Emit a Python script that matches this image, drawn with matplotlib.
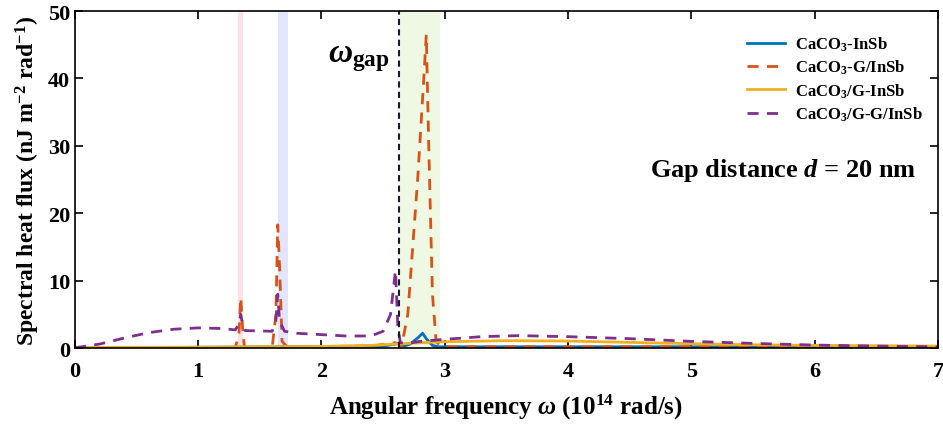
import numpy as np
import matplotlib
matplotlib.use("Agg")
import matplotlib.pyplot as plt

plt.rcParams['font.family'] = ['Liberation Serif', 'DejaVu Serif']
plt.rcParams['font.weight'] = 'bold'
plt.rcParams['axes.labelweight'] = 'bold'
plt.rcParams['mathtext.fontset'] = 'custom'
plt.rcParams['mathtext.rm'] = 'Liberation Serif:bold'
plt.rcParams['mathtext.bf'] = 'Liberation Serif:bold'
plt.rcParams['mathtext.it'] = 'Liberation Serif:italic:bold'

# datos
w_azul = [0, 2.5, 2.6, 2.64, 2.67, 2.72, 2.78, 2.82, 2.85, 2.9, 2.95, 7]
q_azul = [0.0, 0.3, 0.6, 0.8, 0.3, 0.6, 1.5, 2.2, 1.4, 0.4, 0.2, 0.2]

w_rojo = [0, 1.3, 1.33, 1.345, 1.36, 1.375, 1.6, 1.63, 1.645, 1.66, 1.68, 1.72,
          2.4, 2.6, 2.65, 2.7, 2.78, 2.83, 2.85, 2.87, 2.9, 2.93, 2.97, 7]
q_rojo = [0.0, 0.05, 2.0, 7.5, 3.0, 0.1, 0.1, 5.0, 18.3, 12.0, 1.0, 0.2,
          0.3, 0.8, 0.3, 5.0, 25.0, 40.0, 46.5, 30.0, 8.0, 1.0, 0.2, 0.2]

w_amar = [0, 1, 2, 2.4, 2.6, 2.8, 3.0, 3.5, 4.0, 4.5, 5, 5.5, 6, 7]
q_amar = [0.1, 0.15, 0.25, 0.4, 0.6, 0.8, 0.95, 1.1, 1.05, 0.85, 0.65, 0.5, 0.4, 0.3]

w_mor = [0, 0.2, 0.4, 0.6, 0.8, 1.0, 1.2, 1.3, 1.33, 1.345, 1.36, 1.38, 1.6, 1.63,
         1.645, 1.66, 1.7, 1.8, 2.0, 2.2, 2.4, 2.5, 2.56, 2.6, 2.62, 2.64, 2.7, 2.8,
         3.0, 3.3, 3.6, 4.0, 4.5, 5.0, 5.5, 6.0, 6.5, 7]
q_mor = [0.05, 0.6, 1.5, 2.3, 2.8, 3.0, 2.9, 2.7, 3.5, 5.0, 3.5, 2.6, 2.5, 4.0,
         8.0, 4.0, 2.5, 2.2, 2.0, 1.8, 1.8, 2.5, 5.0, 11.5, 3.0, 0.8, 0.7, 1.0,
         1.3, 1.7, 1.85, 1.7, 1.4, 1.0, 0.7, 0.45, 0.3, 0.2]

labels = ["CaCO$_3$-InSb", "CaCO$_3$-G/InSb", "CaCO$_3$/G-InSb", "CaCO$_3$/G-G/InSb"]
w_gap = 2.63

fig = plt.figure(figsize=(9.43, 4.31), dpi=100)
ax = fig.add_axes([0.0795, 0.19, 0.915, 0.782])

# bandas
ax.axvspan(1.32, 1.36, color='#fbe3e3', lw=0)
ax.axvspan(1.65, 1.73, color='#e2e5fb', lw=0)
ax.axvspan(2.64, 2.96, color='#eef8e2', lw=0)

ax.plot(w_azul, q_azul, color='#0072BD', lw=2, label=labels[0])
ax.plot(w_rojo, q_rojo, color='#D95319', lw=2, ls=(0, (4, 3)), label=labels[1])
ax.plot(w_amar, q_amar, color='#EDB120', lw=2, label=labels[2])
ax.plot(w_mor, q_mor, color='#7E2F8E', lw=2, ls=(0, (4, 3)), label=labels[3])
ax.axvline(w_gap, color='#1a1a2e', lw=1.5, ls=(0, (3, 2)))

ax.text(2.05, 42.5, r'$\omega_{\mathrm{gap}}$', fontsize=24)
ax.text(6.83, 25.5, r'Gap distance $d$ = 20 nm', fontsize=19, ha='right')

ax.set_xlim(0, 7)
ax.set_ylim(0, 50)
ax.set_xticks(range(0, 8))
ax.set_yticks(range(0, 51, 10))
ax.tick_params(direction='in', top=True, right=True, labelsize=16, width=1.2, length=6)
ax.tick_params(axis='x', pad=9)
for s in ax.spines.values():
    s.set_linewidth(1.2)
ax.set_xlabel(r'Angular frequency $\omega$ (10$^{14}$ rad/s)', fontsize=18,
              fontweight='bold', labelpad=8)
ax.set_ylabel(r'Spectral heat flux (nJ m$^{-2}$ rad$^{-1}$)', fontsize=17, fontweight='bold')
ax.legend(loc='upper right', bbox_to_anchor=(1.0, 0.975), frameon=False, fontsize=12,
          handlelength=2.3, handletextpad=0.6, labelspacing=0.3)

fig.savefig('out.png', dpi=100)
